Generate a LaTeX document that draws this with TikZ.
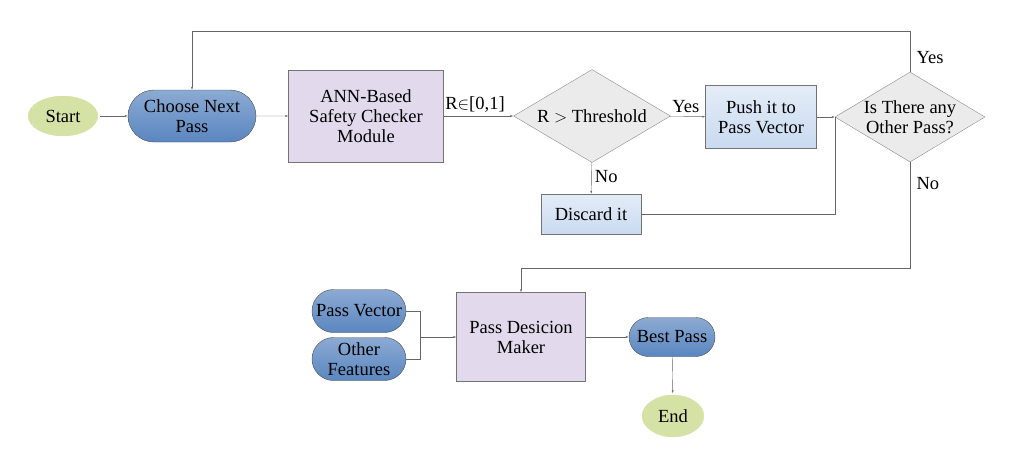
\documentclass[tikz,border=0pt]{standalone}
\usepackage{fontspec}
\setmainfont{Liberation Serif}
\usetikzlibrary{shapes.geometric,shapes.misc,arrows.meta}
\definecolor{termgreen}{HTML}{D5E2A6}
\definecolor{passblue}{HTML}{5A86C0}
\definecolor{procpurple}{HTML}{E2D9EC}
\definecolor{actblue}{HTML}{C9DAF0}
\definecolor{decgray}{HTML}{EBEBEB}
\tikzset{
	term/.style={ellipse,draw=white,line width=1.5pt,fill=termgreen,minimum width=72pt,minimum height=42pt,inner sep=0pt},
	pass/.style={rounded rectangle,draw=black!70,top color=passblue!70,bottom color=passblue,minimum height=46pt,inner sep=1pt,align=center},
	proc/.style={rectangle,draw=black!55,fill=procpurple,align=center},
	act/.style={rectangle,draw=black!55,top color=actblue!50,bottom color=actblue,align=center},
	dec/.style={diamond,draw=black!45,fill=decgray,aspect=1.7,inner sep=0pt,align=center},
	conn/.style={draw=black!60,-{Latex[length=3pt,width=2pt]}},
	line/.style={draw=black!60}
}
\begin{document}
\begin{tikzpicture}[x=1pt,y=-1pt,font=\fontsize{18.5}{20}\selectfont]
	\useasboundingbox (0,0) rectangle (1025,451);

	\node[term] (start) at (63,116) {Start};
	\node[pass,minimum width=130pt,minimum height=52pt] (choose) at (192,116) {Choose Next\\Pass};
	\node[proc,minimum width=155pt,minimum height=92pt] (ann) at (366,116) {ANN-Based\\Safety Checker\\Module};
	\node[dec,minimum width=157pt,minimum height=93pt] (thr) at (592,116) {R $>$ Threshold};
	\node[act,minimum width=111pt,minimum height=63pt] (push) at (761,117) {Push it to\\Pass Vector};
	\node[dec,minimum width=150pt,minimum height=90pt] (other) at (910,117) {Is There any\\Other Pass?};
	\node[act,minimum width=100pt,minimum height=40pt] (discard) at (591,214) {Discard it};
	\node[proc,minimum width=129pt,minimum height=89pt] (maker) at (521,337) {Pass Desicion\\Maker};
	\node[pass,minimum width=96pt,minimum height=43pt] (vector) at (359,311) {Pass Vector};
	\node[pass,minimum width=96pt,minimum height=43pt] (feat) at (359,359) {Other\\Features};
	\node[pass,minimum width=88pt,minimum height=39pt] (best) at (672,337) {Best Pass};
	\node[term,minimum width=64pt,minimum height=44pt] (end) at (673,416) {End};

	\coordinate (join) at (835,117);
	\coordinate (merge) at (420,337);

	\draw[conn] (start) -- (choose);
	\draw[conn] (choose) -- (ann);
	\draw[conn] (ann) -- node[above,pos=0.45] {R$\in$[0,1]} (thr);
	\draw[conn] (thr) -- node[above,pos=0.45] {Yes} (push);
	\draw[conn] (push) -- (other);
	\draw[conn] (thr) -- node[right,pos=0.45] {No} (discard);
	\draw[line] (discard) -| (join);
	\draw[conn] (other.north) -- ++(0,-41) node[right,pos=0.35,xshift=3pt] {Yes} -| (choose.north);
	\draw[conn] (other.south) -- ++(0,106) node[right,pos=0.2,xshift=3pt] {No} -| (maker.north);
	\draw[line] (vector) -| (merge);
	\draw[line] (feat) -| (merge);
	\draw[conn] (merge) -- (maker);
	\draw[conn] (maker) -- (best);
	\draw[conn] (best) -- (end);
\end{tikzpicture}
\end{document}
